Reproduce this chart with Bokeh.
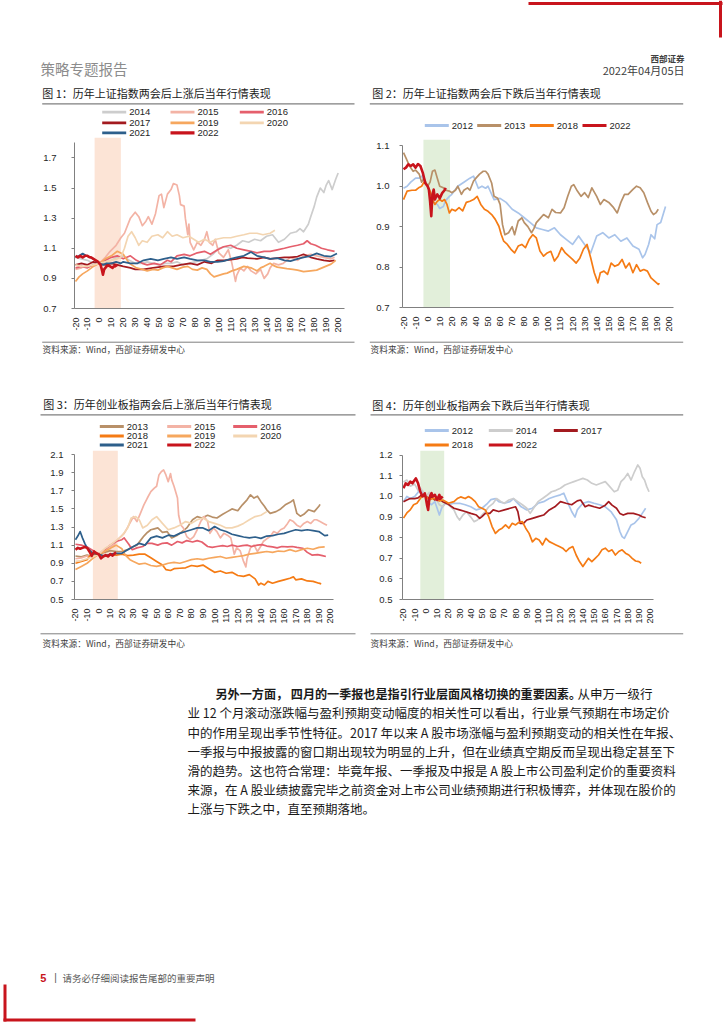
import math
from bokeh.plotting import figure
from bokeh.models import Range1d, FixedTicker
from bokeh.layouts import column, row
from bokeh.embed import file_html
from bokeh.resources import INLINE
from bokeh.core.properties import value

CJK = "Noto Sans CJK SC"
LAT = "Liberation Sans"
RED = "#c8141c"

COLORS = {
    "2012": "#a9c4ea", "2013": "#b89068", "2014": "#cdcdcd", "2015": "#f3b3a5",
    "2016": "#e55f6c", "2017": "#a31a1f", "2018": "#f57b14", "2019": "#f6a75e",
    "2020": "#f3d5b1", "2021": "#2d5f8b", "2022": "#c8141c",
}

# ---------------- data (day offset vs. two-sessions end, normalised index) ----------------
XTICKS = list(range(-20, 201, 10))

# Figure 1: Shanghai Composite, years that rose after the two sessions
f1_2014 = [(-20,1.04),(-15,1.03),(-10,1.02),(-5,1.0),(0,1.0),(5,1.01),(10,1.02),(15,1.04),(20,1.05),(25,1.02),(30,1.0),(35,1.0),(40,1.01),(45,1.0),(50,0.99),(55,1.0),(60,1.0),(65,1.01),(70,0.99),(75,1.0),(80,1.01),(85,1.02),(90,1.03),(95,1.06),(100,1.1),(105,1.11),(110,1.1),(115,1.12),(120,1.15),(125,1.14),(130,1.16),(135,1.15),(140,1.18),(145,1.19),(150,1.14),(155,1.16),(160,1.2),(165,1.21),(168,1.23),(171,1.21),(175,1.26),(177,1.31),(180,1.38),(182,1.44),(185,1.5),(188,1.47),(190,1.52),(192,1.55),(195,1.49),(198,1.56),(200,1.6)]
f1_2015 = [(-20,0.96),(-15,0.97),(-10,0.99),(-5,0.98),(0,1.0),(5,1.04),(9,1.08),(14,1.12),(18,1.17),(21,1.2),(26,1.3),(30,1.34),(33,1.31),(36,1.25),(39,1.28),(41,1.31),(44,1.26),(47,1.33),(50,1.45),(52,1.46),(54,1.37),(57,1.46),(60,1.49),(62,1.53),(65,1.52),(67,1.45),(68,1.39),(71,1.38),(72,1.3),(74,1.19),(75,1.26),(76,1.14),(79,1.09),(82,1.14),(85,1.12),(88,1.16),(90,1.21),(92,1.14),(95,1.12),(97,1.16),(100,1.07),(104,1.04),(108,1.09),(111,1.0),(114,0.88),(115,0.92),(118,0.97),(121,0.95),(124,0.98),(127,0.95),(131,0.93),(135,0.96),(138,0.9),(141,0.93),(143,0.97),(146,1.0),(150,0.99),(154,1.0),(160,1.04),(166,1.02),(171,1.05),(177,1.06),(182,1.05),(188,1.04),(194,1.03),(197,1.04)]
f1_2016 = [(-20,0.97),(-15,0.98),(-10,0.97),(-5,0.99),(0,1.0),(5,1.02),(10,1.04),(15,1.05),(20,1.03),(26,1.05),(31,1.02),(36,1.0),(40,0.99),(46,1.0),(51,0.99),(57,1.02),(60,1.01),(65,1.05),(71,1.06),(76,1.05),(82,1.07),(88,1.08),(93,1.06),(99,1.09),(104,1.11),(110,1.12),(115,1.1),(121,1.09),(127,1.08),(132,1.07),(138,1.08),(143,1.08),(149,1.09),(155,1.1),(160,1.11),(166,1.12),(171,1.13),(174,1.15),(177,1.13),(181,1.12),(186,1.1),(191,1.09),(197,1.08)]
f1_2017 = [(-20,0.99),(-15,1.0),(-10,0.99),(-5,1.01),(0,1.0),(5,0.99),(10,1.0),(15,0.99),(20,0.98),(26,0.97),(30,0.96),(37,0.96),(45,0.97),(54,0.98),(62,0.98),(68,0.99),(76,1.0),(82,0.99),(88,1.01),(94,1.0),(99,1.02),(105,1.02),(110,1.025),(115,1.03),(120,1.04),(124,1.035),(132,1.03),(138,1.04),(143,1.03),(149,1.035),(155,1.04),(160,1.04),(166,1.045),(171,1.06),(177,1.04),(182,1.03),(188,1.02),(193,1.015),(197,1.02)]
f1_2019 = [(-20,0.88),(-17,0.91),(-14,0.93),(-10,0.95),(-5,0.98),(0,1.0),(5,1.03),(10,1.05),(15,1.08),(20,1.06),(25,1.0),(31,0.97),(36,0.96),(40,0.95),(45,0.96),(49,0.955),(53,0.97),(57,0.98),(61,0.97),(65,0.96),(70,0.975),(74,0.98),(78,0.96),(82,0.955),(86,0.97),(90,0.96),(93,0.93),(96,0.91),(100,0.92),(104,0.93),(107,0.935),(111,0.95),(115,0.96),(118,0.97),(121,0.98),(124,0.975),(127,0.97),(132,0.95),(135,0.97),(138,0.98),(143,1.0),(146,0.985),(149,0.975),(153,0.97),(157,0.965),(162,0.96),(166,0.955),(171,0.945),(177,0.95),(182,0.955),(188,0.975),(194,0.995),(198,1.02)]
f1_2020 = [(-20,0.99),(-15,0.98),(-10,0.98),(-5,0.99),(0,1.0),(5,1.01),(10,1.02),(15,1.03),(18,1.04),(21,1.1),(24,1.18),(27,1.21),(30,1.17),(33,1.12),(36,1.15),(40,1.14),(44,1.18),(49,1.19),(53,1.17),(57,1.21),(61,1.18),(65,1.19),(70,1.17),(75,1.18),(79,1.16),(83,1.14),(88,1.16),(93,1.14),(98,1.16),(104,1.17),(110,1.17),(115,1.18),(121,1.19),(126,1.2),(132,1.2),(137,1.19),(143,1.2),(147,1.22)]
f1_2021 = [(-20,1.04),(-17,1.05),(-14,1.065),(-11,1.05),(-8,1.04),(-5,1.03),(-2,1.01),(0,1.0),(3,0.99),(6,1.0),(10,1.0),(14,1.01),(18,1.0),(20,1.01),(26,1.0),(32,1.0),(37,1.02),(43,1.03),(49,1.02),(54,1.03),(60,1.04),(65,1.03),(71,1.04),(76,1.03),(82,1.02),(88,1.02),(93,1.01),(99,1.01),(104,1.015),(110,1.03),(115,1.04),(121,1.05),(127,1.075),(132,1.05),(138,1.04),(143,1.03),(149,1.035),(155,1.02),(160,1.015),(166,1.03),(171,1.04),(177,1.05),(182,1.066),(188,1.05),(194,1.045),(199,1.066)]
f1_2022 = [(-20,1.05),(-18,1.04),(-16,1.05),(-14,1.04),(-12,1.05),(-10,1.05),(-8,1.04),(-7,1.04),(-5,1.03),(-3,1.02),(-1,1.01),(0,1.0),(1,0.99),(2,0.96),(3,0.925),(4,0.96),(5,0.97),(6,0.98),(8,0.985),(10,0.975),(11,0.97),(12,0.98),(13,0.98),(15,0.99)]

# Figure 2: Shanghai Composite, years that fell after the two sessions
f2_2012 = [(-20,0.995),(-17,1.0),(-14,1.01),(-10,1.02),(-7,1.02),(-5,1.025),(-2,1.01),(0,1.0),(3,0.975),(5,0.96),(8,0.955),(10,0.945),(13,0.95),(15,0.965),(18,0.975),(20,0.98),(25,1.0),(30,1.01),(35,1.02),(38,1.025),(42,0.995),(45,1.0),(48,0.995),(50,1.0),(55,0.967),(60,0.97),(65,0.96),(70,0.943),(75,0.934),(80,0.922),(85,0.91),(90,0.897),(95,0.893),(100,0.889),(105,0.897),(110,0.88),(115,0.868),(120,0.856),(125,0.877),(130,0.856),(132,0.848),(135,0.835),(140,0.877),(145,0.885),(150,0.872),(155,0.88),(160,0.864),(165,0.872),(170,0.852),(175,0.844),(178,0.823),(180,0.831),(183,0.856),(185,0.88),(188,0.87),(190,0.905),(193,0.91),(195,0.93),(197,0.95)]
f2_2013 = [(-20,1.083),(-18,1.07),(-15,1.05),(-12,1.037),(-10,1.04),(-7,1.03),(-5,1.01),(-3,1.02),(0,1.0),(2,1.01),(4,1.037),(6,1.04),(8,1.02),(10,1.0),(13,0.996),(15,0.99),(18,0.988),(20,0.984),(23,0.99),(25,1.0),(28,0.98),(30,0.99),(33,0.996),(35,0.99),(38,1.013),(40,1.02),(43,1.03),(46,1.037),(48,1.037),(50,1.03),(53,1.008),(55,0.975),(58,0.97),(60,0.955),(62,0.905),(64,0.88),(67,0.885),(70,0.9),(72,0.88),(75,0.914),(78,0.922),(80,0.91),(83,0.9),(86,0.885),(88,0.895),(90,0.91),(93,0.92),(96,0.93),(100,0.922),(103,0.943),(106,0.935),(110,0.934),(113,0.947),(116,0.975),(119,1.0),(121,1.004),(124,0.988),(127,0.975),(130,0.984),(133,0.972),(136,0.996),(140,0.975),(143,0.955),(146,0.967),(150,0.96),(154,0.947),(157,0.934),(160,0.96),(163,0.98),(166,0.98),(170,0.992),(173,1.0),(176,0.996),(179,0.984),(182,0.96),(185,0.938),(187,0.93),(189,0.934),(191,0.943)]
f2_2018 = [(-20,0.967),(-17,0.988),(-13,0.99),(-10,0.99),(-7,0.997),(-5,1.0),(-3,1.01),(0,1.0),(2,0.988),(4,0.967),(6,0.955),(8,0.963),(10,0.967),(12,0.963),(14,0.967),(16,0.955),(18,0.934),(20,0.943),(23,0.939),(26,0.947),(29,0.939),(32,0.96),(35,0.963),(38,0.967),(41,0.975),(44,0.955),(47,0.943),(50,0.938),(53,0.93),(56,0.918),(59,0.901),(61,0.88),(63,0.864),(66,0.856),(69,0.844),(72,0.835),(75,0.852),(78,0.856),(81,0.848),(84,0.868),(87,0.88),(90,0.872),(93,0.84),(96,0.827),(99,0.835),(102,0.839),(105,0.815),(108,0.827),(111,0.848),(114,0.835),(117,0.827),(120,0.819),(123,0.81),(126,0.822),(129,0.844),(132,0.856),(135,0.823),(138,0.786),(141,0.761),(143,0.786),(146,0.79),(149,0.782),(152,0.81),(155,0.802),(158,0.806),(161,0.819),(164,0.798),(167,0.81),(170,0.786),(173,0.806),(176,0.79),(179,0.794),(182,0.79),(185,0.773),(188,0.765),(191,0.757),(192,0.76)]
f2_2022 = [(-20,1.042),(-18,1.046),(-16,1.054),(-14,1.05),(-12,1.054),(-10,1.046),(-8,1.055),(-6,1.05),(-4,1.033),(-2,1.008),(0,1.0),(1,0.992),(2,0.963),(3,0.926),(4,0.98),(5,0.992),(6,0.967),(8,0.98),(10,0.97),(12,0.983),(14,0.99),(15,0.996)]

# Figure 3: ChiNext, years that rose after the two sessions
f3_2013 = [(-20,0.98),(-15,0.97),(-10,0.99),(-5,0.97),(0,1.0),(5,1.02),(10,1.04),(15,1.03),(20,1.03),(25,1.05),(29,1.08),(33,1.1),(36,1.15),(39,1.2),(42,1.24),(45,1.27),(48,1.28),(51,1.29),(55,1.24),(59,1.25),(63,1.18),(68,1.21),(72,1.25),(76,1.29),(81,1.38),(85,1.415),(89,1.4),(94,1.43),(98,1.41),(102,1.4),(107,1.44),(111,1.47),(115,1.5),(120,1.48),(124,1.545),(128,1.6),(131,1.655),(134,1.62),(137,1.64),(140,1.58),(143,1.53),(145,1.49),(148,1.45),(153,1.47),(157,1.5),(161,1.545),(166,1.58),(168,1.6),(171,1.45),(174,1.42),(177,1.44),(181,1.49),(186,1.47),(190,1.53),(191,1.55)]
f3_2015 = [(-20,0.95),(-15,0.96),(-10,0.98),(-5,0.97),(0,1.0),(4,1.03),(9,1.08),(13,1.1),(17,1.17),(22,1.23),(26,1.32),(30,1.415),(33,1.36),(36,1.45),(39,1.545),(42,1.62),(45,1.69),(48,1.73),(50,1.75),(52,1.875),(54,1.91),(56,1.93),(58,1.875),(60,1.8),(62,1.89),(63,1.82),(65,1.75),(68,1.62),(69,1.43),(71,1.32),(73,1.29),(76,1.195),(79,1.16),(82,1.195),(85,1.27),(88,1.36),(91,1.415),(94,1.36),(96,1.23),(99,1.29),(102,1.25),(105,1.18),(108,1.23),(111,1.21),(114,1.18),(117,1.0),(119,1.07),(122,1.04),(125,0.92),(127,0.86),(128,0.95),(131,1.07),(134,1.1),(137,1.03),(140,1.09),(142,1.14),(145,1.17),(148,1.195),(151,1.25),(154,1.23),(157,1.27),(160,1.29),(163,1.34),(165,1.38),(168,1.36),(171,1.32),(174,1.3),(177,1.34),(180,1.36),(183,1.34),(186,1.38),(188,1.38),(191,1.36),(194,1.34),(197,1.32)]
f3_2016 = [(-20,1.11),(-15,1.1),(-10,1.08),(-5,1.04),(0,1.0),(5,1.05),(10,1.1),(15,1.14),(20,1.16),(22,1.18),(26,1.11),(29,1.05),(33,1.07),(38,1.085),(42,1.12),(46,1.12),(51,1.1),(55,1.12),(59,1.125),(63,1.1),(68,1.14),(72,1.125),(76,1.15),(81,1.135),(85,1.15),(89,1.135),(94,1.085),(98,1.075),(102,1.085),(107,1.095),(111,1.085),(115,1.1),(120,1.085),(124,1.095),(128,1.1),(132,1.085),(137,1.1),(141,1.105),(145,1.09),(150,1.08),(154,1.07),(158,1.085),(163,1.08),(167,1.085),(171,1.075),(176,1.066),(180,1.02),(184,0.99),(189,0.995),(193,0.985),(196,0.975)]
f3_2018 = [(-20,0.9),(-15,0.92),(-10,0.94),(-7,0.99),(-5,1.0),(0,1.0),(5,0.975),(10,1.0),(15,0.99),(20,1.0),(25,0.985),(30,0.99),(35,1.0),(40,1.0),(45,0.96),(50,0.92),(55,0.88),(58,0.83),(62,0.82),(65,0.84),(70,0.845),(75,0.85),(80,0.875),(85,0.865),(90,0.88),(95,0.84),(100,0.8),(105,0.815),(110,0.79),(115,0.8),(120,0.765),(125,0.755),(130,0.775),(135,0.728),(138,0.66),(140,0.68),(143,0.66),(146,0.7),(150,0.68),(155,0.7),(160,0.717),(165,0.735),(168,0.75),(170,0.717),(175,0.728),(180,0.705),(185,0.7),(190,0.68),(192,0.673)]
f3_2019 = [(-20,0.83),(-15,0.865),(-10,0.9),(-5,0.955),(0,1.0),(5,1.03),(10,1.066),(15,1.1),(20,1.06),(23,0.99),(27,0.94),(30,0.92),(35,0.89),(40,0.9),(45,0.875),(50,0.865),(55,0.88),(60,0.9),(65,0.91),(70,0.9),(75,0.92),(80,0.94),(85,0.95),(90,0.94),(95,0.955),(100,0.965),(105,0.975),(110,0.955),(115,0.965),(120,0.975),(125,0.985),(130,1.0),(135,1.01),(140,1.02),(145,1.03),(150,1.02),(155,1.035),(160,1.03),(165,1.05),(170,1.03),(175,1.05),(180,1.066),(185,1.055),(190,1.075),(195,1.08)]
f3_2020 = [(-20,0.92),(-15,0.93),(-10,0.95),(-5,0.97),(0,1.0),(5,1.06),(10,1.1),(15,1.15),(20,1.2),(25,1.29),(28,1.4),(32,1.415),(35,1.38),(38,1.29),(42,1.32),(46,1.38),(50,1.415),(55,1.34),(60,1.27),(65,1.29),(70,1.32),(75,1.36),(80,1.34),(85,1.38),(90,1.4),(95,1.36),(100,1.34),(105,1.32),(110,1.29),(115,1.29),(120,1.31),(125,1.34),(130,1.38),(135,1.415),(140,1.43),(145,1.47)]
f3_2021 = [(-20,1.16),(-18,1.2),(-16,1.25),(-14,1.18),(-12,1.12),(-10,1.07),(-5,1.01),(0,1.0),(5,0.98),(10,1.0),(15,1.01),(20,1.01),(25,1.05),(30,1.085),(35,1.12),(40,1.1),(45,1.18),(50,1.2),(55,1.18),(60,1.21),(65,1.2),(70,1.23),(75,1.25),(80,1.27),(85,1.29),(90,1.29),(95,1.26),(100,1.305),(105,1.27),(110,1.25),(115,1.22),(120,1.205),(125,1.19),(130,1.18),(135,1.19),(140,1.175),(145,1.2),(150,1.205),(155,1.22),(160,1.23),(165,1.25),(170,1.27),(175,1.26),(180,1.27),(185,1.26),(190,1.25),(195,1.205),(198,1.21)]
f3_2022 = [(-20,1.05),(-18,1.07),(-16,1.06),(-14,1.07),(-12,1.08),(-10,1.07),(-8,1.03),(-6,0.98),(-4,1.03),(-2,1.01),(0,1.0),(2,0.955),(4,0.975),(6,0.99),(8,0.975),(10,1.0),(12,0.985),(14,1.01),(15,1.02)]

# Figure 4: ChiNext, years that fell after the two sessions
f4_2012 = [(-20,0.975),(-17,1.0),(-14,0.99),(-10,1.0),(-7,1.02),(-5,1.04),(-3,1.015),(0,1.0),(3,0.967),(5,0.96),(8,0.975),(10,0.943),(12,0.91),(14,0.943),(16,0.96),(18,0.967),(20,0.96),(25,0.967),(30,0.967),(35,0.96),(40,0.95),(45,0.935),(50,0.943),(55,0.967),(58,0.985),(62,0.99),(65,0.975),(70,0.967),(75,0.975),(78,0.99),(82,0.967),(85,0.95),(90,0.935),(95,0.943),(100,0.967),(105,0.975),(110,0.99),(115,1.0),(120,1.008),(123,1.016),(125,0.99),(130,0.927),(133,0.9),(135,0.935),(140,0.967),(145,0.975),(150,0.967),(155,0.96),(160,0.95),(165,0.927),(170,0.887),(173,0.83),(175,0.805),(177,0.797),(180,0.83),(183,0.862),(186,0.87),(190,0.894),(193,0.918),(196,0.943)]
f4_2014 = [(-20,1.07),(-17,1.08),(-14,1.05),(-10,1.06),(-7,1.03),(-5,1.04),(-2,1.02),(0,1.0),(3,1.02),(5,0.99),(8,1.01),(10,0.98),(12,0.96),(15,0.95),(18,0.97),(20,0.96),(25,0.935),(28,0.9),(30,0.886),(33,0.91),(36,0.927),(40,0.9),(43,0.878),(46,0.886),(50,0.91),(53,0.927),(56,0.95),(60,0.967),(63,0.99),(67,0.975),(70,0.967),(74,0.983),(78,0.99),(82,0.975),(86,0.96),(90,0.943),(93,0.918),(96,0.943),(100,0.975),(104,0.99),(108,1.006),(112,1.023),(116,1.03),(120,1.04),(124,1.056),(128,1.064),(132,1.072),(136,1.08),(140,1.088),(144,1.08),(148,1.064),(152,1.056),(156,1.064),(160,1.072),(164,1.048),(168,1.023),(171,1.03),(174,1.072),(177,1.088),(180,1.112),(183,1.08),(186,1.12),(189,1.153),(191,1.137),(193,1.096),(195,1.08),(197,1.048),(199,1.023)]
f4_2017 = [(-20,0.975),(-17,0.983),(-14,0.99),(-10,0.99),(-7,0.993),(-4,1.007),(0,1.0),(3,0.99),(5,0.998),(8,0.983),(10,0.99),(13,0.983),(15,0.975),(18,0.967),(20,0.962),(25,0.943),(30,0.935),(35,0.927),(40,0.918),(45,0.91),(48,0.894),(50,0.902),(53,0.918),(57,0.918),(60,0.935),(65,0.927),(70,0.935),(75,0.943),(80,0.95),(82,0.927),(84,0.87),(87,0.87),(90,0.886),(95,0.894),(100,0.902),(105,0.91),(110,0.935),(115,0.95),(120,0.975),(125,0.967),(130,0.96),(135,0.979),(138,0.983),(142,0.95),(145,0.958),(150,0.95),(155,0.943),(160,0.958),(163,0.975),(166,0.958),(170,0.943),(173,0.918),(176,0.91),(180,0.918),(185,0.918),(190,0.91),(193,0.902),(196,0.897)]
f4_2018 = [(-20,0.895),(-17,0.92),(-14,0.935),(-11,0.96),(-8,0.967),(-5,0.99),(-3,1.006),(0,1.0),(3,0.983),(6,0.99),(9,0.99),(12,0.978),(15,0.983),(18,0.975),(20,0.967),(25,0.975),(28,0.99),(31,0.998),(35,0.99),(38,1.0),(41,0.99),(44,0.975),(47,0.95),(50,0.943),(53,0.935),(56,0.902),(59,0.854),(62,0.821),(65,0.837),(68,0.846),(71,0.862),(74,0.846),(77,0.87),(80,0.862),(83,0.875),(86,0.878),(89,0.846),(92,0.821),(95,0.78),(98,0.797),(101,0.789),(104,0.765),(107,0.797),(110,0.781),(113,0.773),(116,0.765),(119,0.757),(122,0.749),(125,0.733),(128,0.749),(131,0.757),(134,0.716),(137,0.684),(140,0.66),(142,0.676),(145,0.7),(148,0.684),(151,0.7),(154,0.716),(157,0.741),(160,0.749),(163,0.733),(166,0.741),(169,0.716),(172,0.733),(175,0.741),(178,0.725),(181,0.716),(184,0.7),(187,0.687),(190,0.684),(192,0.676)]
f4_2022 = [(-20,1.04),(-18,1.064),(-16,1.056),(-14,1.072),(-12,1.064),(-10,1.08),(-9,1.088),(-7,1.064),(-5,1.023),(-3,1.0),(-1,1.015),(0,0.99),(1,0.958),(2,0.935),(3,0.99),(4,1.006),(5,1.016),(6,1.0),(8,1.008),(10,0.983),(12,1.008),(13,0.99),(15,1.0)]

# shaded two-sessions windows (day offsets)
band1 = (-4, 18)
band2 = (-3.5, 18.5)
band3 = (-5, 16.5)
band4 = (-5, 16.3)

yticks1 = [0.7, 0.9, 1.1, 1.3, 1.5, 1.7]
yticks2 = [0.7, 0.8, 0.9, 1.0, 1.1]
yticks3 = [0.5, 0.7, 0.9, 1.1, 1.3, 1.5, 1.7, 1.9, 2.1]
yticks4 = [0.5, 0.6, 0.7, 0.8, 0.9, 1.0, 1.1, 1.2]

titles = [
    "图 1：历年上证指数两会后上涨后当年行情表现",
    "图 2：历年上证指数两会后下跌后当年行情表现",
    "图 3：历年创业板指两会后上涨后当年行情表现",
    "图 4：历年创业板指两会下跌后当年行情表现",
]
SOURCE = "资料来源：Wind，西部证券研发中心"

PARA_BOLD = "另外一方面， 四月的一季报也是指引行业层面风格切换的重要因素。"
PARA_FIRST_TAIL = "从申万一级行"
PARA_LINES = [
    "业 12 个月滚动涨跌幅与盈利预期变动幅度的相关性可以看出，行业景气预期在市场定价",
    "中的作用呈现出季节性特征。2017 年以来 A 股市场涨幅与盈利预期变动的相关性在年报、",
    "一季报与中报披露的窗口期出现较为明显的上升，但在业绩真空期反而呈现出稳定甚至下",
    "滑的趋势。这也符合常理：毕竟年报、一季报及中报是 A 股上市公司盈利定价的重要资料",
    "来源，在 A 股业绩披露完毕之前资金对上市公司业绩预期进行积极博弈，并体现在股价的",
    "上涨与下跌之中，直至预期落地。",
]


# ---------------- helpers ----------------
def deco(x0, x1, y0, y1):
    p = figure(width=x1 - x0, height=y1 - y0, x_range=Range1d(x0, x1), y_range=Range1d(y1, y0),
               min_border=0, toolbar_location=None, output_backend="svg",
               outline_line_color=None, x_axis_location=None, y_axis_location=None)
    p.frame_align = False
    p.grid.visible = False
    p.background_fill_color = "white"
    p.border_fill_color = "white"
    return p


def txt(p, x, y, s, size, color="#1a1a1a", font=CJK, align="left", style="normal"):
    p.text(x=[x], y=[y], text=[s], text_font=value(font), text_font_size=value(f"{size}px"),
           text_color=color, text_align=align, text_baseline="middle", text_font_style=style)


def hline(p, x0, x1, y, color="#808080", w=1.0):
    p.line(x=[x0, x1], y=[y, y], line_color=color, line_width=w)


def vline(p, x, y0, y1, color="#808080", w=1.0):
    p.line(x=[x, x], y=[y0, y1], line_color=color, line_width=w)


def top_panel(x0, x1, y0, y1, title, tx, ty, rule, legend):
    p = deco(x0, x1, y0, y1)
    txt(p, tx, ty, title, 11, "#1a1a1a")
    hline(p, rule[0], rule[1], rule[2], "#7f7f7f", 1.2)
    for name, lx, ly in legend:
        hline(p, lx, lx + 24, ly, COLORS[name], 3.2 if name == "2022" else 2.8)
        txt(p, lx + 27, ly, name, 9.5, "#262626", LAT)
    return p


def bottom_panel(x0, x1, y0, y1, rule, sx, sy):
    p = deco(x0, x1, y0, y1)
    hline(p, rule[0], rule[1], rule[2], "#7f7f7f", 1.0)
    txt(p, sx, sy, SOURCE, 8.7, "#404040")
    return p


def plot_panel(w, h, mbl, mbr, mbb, xr, yr, yticks, ybound_top, ystand, band, band_color, series):
    p = figure(width=w, height=h, x_range=Range1d(*xr), y_range=Range1d(*yr),
               min_border_left=mbl, min_border_right=mbr, min_border_top=0, min_border_bottom=mbb,
               toolbar_location=None, output_backend="svg", outline_line_color=None)
    p.frame_align = False
    p.grid.visible = False
    p.background_fill_color = "white"
    p.border_fill_color = "white"
    p.quad(left=[band[0]], right=[band[1]], bottom=[yr[0]], top=[yr[1]],
           fill_color=band_color, line_color=None)
    for name, pts in series:
        p.line(x=[d for d, _ in pts], y=[v for _, v in pts], line_color=COLORS[name],
               line_width=2.6 if name == "2022" else 1.7, line_join="round")
    xa = p.xaxis[0]
    xa.ticker = FixedTicker(ticks=XTICKS)
    xa.major_label_overrides = {t: str(t) for t in XTICKS}
    xa.major_label_orientation = math.pi / 2
    xa.major_label_text_font = LAT
    xa.major_label_text_font_size = "9px"
    xa.major_label_text_color = "#262626"
    xa.major_label_standoff = 3
    xa.major_tick_line_color = None
    xa.minor_tick_line_color = None
    xa.axis_line_color = "#808080"
    ya = p.yaxis[0]
    ya.ticker = FixedTicker(ticks=yticks)
    ya.major_label_overrides = {t: f"{t:.1f}" for t in yticks}
    ya.bounds = (yticks[0], ybound_top)
    ya.major_label_text_font = LAT
    ya.major_label_text_font_size = "9.5px"
    ya.major_label_text_color = "#262626"
    ya.major_label_standoff = ystand
    ya.major_tick_out = 3
    ya.major_tick_in = 0
    ya.major_tick_line_color = "#808080"
    ya.minor_tick_line_color = None
    ya.axis_line_color = "#808080"
    return p


PEACH = "#fce4d6"
GREEN = "#e2efda"

# ---------------- chart 1 ----------------
t1 = top_panel(0, 362, 84, 137, titles[0], 41.7, 92.3, (41.7, 354, 103.3),
               [("2014", 101.7, 111.7), ("2015", 170, 111.7), ("2016", 239.3, 111.7),
                ("2017", 101.7, 122.3), ("2019", 170, 122.3), ("2020", 239.3, 122.3),
                ("2021", 101.7, 132.3), ("2022", 170, 132.3)])
p1 = plot_panel(362, 201, 74, 18, 30, (-20.84, 205.3), (0.7, 1.836), yticks1, 1.8, 15, band1, PEACH,
                [("2014", f1_2014), ("2015", f1_2015), ("2016", f1_2016), ("2017", f1_2017),
                 ("2019", f1_2019), ("2020", f1_2020), ("2021", f1_2021), ("2022", f1_2022)])
b1 = bottom_panel(0, 362, 338, 392, (41.7, 354, 341.7), 42, 349.3)

# ---------------- chart 2 ----------------
t2 = top_panel(362, 724, 84, 139, titles[1], 371.7, 92.3, (369.3, 682.7, 103.3),
               [("2012", 424.3, 125), ("2013", 476.7, 125), ("2018", 529.3, 125), ("2022", 582, 125)])
p2 = plot_panel(362, 199, 40, 51, 31, (-20.83, 203.6), (0.7, 1.1156), yticks2, 1.1, 10, band2, GREEN,
                [("2012", f2_2012), ("2013", f2_2013), ("2018", f2_2018), ("2022", f2_2022)])
b2 = bottom_panel(362, 724, 338, 392, (369.3, 682.7, 341.7), 370, 349.3)

# ---------------- chart 3 ----------------
t3 = top_panel(0, 362, 392, 450, titles[2], 42.7, 403.3, (40, 355, 414.3),
               [("2013", 99.3, 426), ("2015", 166.7, 426), ("2016", 232.7, 426),
                ("2018", 99.3, 435.5), ("2019", 166.7, 435.5), ("2020", 232.7, 435.5),
                ("2021", 99.3, 444.5), ("2022", 166.7, 444.5)])
p3 = plot_panel(362, 180, 74, 29, 31, (-20.86, 202.6), (0.5, 2.1446), yticks3, 2.1, 8, band3, PEACH,
                [("2013", f3_2013), ("2015", f3_2015), ("2016", f3_2016), ("2018", f3_2018),
                 ("2019", f3_2019), ("2020", f3_2020), ("2021", f3_2021), ("2022", f3_2022)])
b3 = bottom_panel(0, 362, 630, 656, (40, 355, 633.3), 42, 642.7)

# ---------------- chart 4 ----------------
t4 = top_panel(362, 724, 392, 450, titles[3], 371.7, 404, (370, 682.7, 414.3),
               [("2012", 424.3, 430), ("2014", 488.3, 430), ("2017", 553.3, 430),
                ("2018", 424.3, 444.5), ("2022", 488.3, 444.5)])
p4 = plot_panel(362, 180, 40, 71, 31, (-20.89, 203.0), (0.5, 1.2233), yticks4, 1.2, 7, band4, GREEN,
                [("2012", f4_2012), ("2014", f4_2014), ("2017", f4_2017), ("2018", f4_2018),
                 ("2022", f4_2022)])
b4 = bottom_panel(362, 724, 630, 656, (370, 682.7, 633.3), 370, 642.7)

# ---------------- header ----------------
head = deco(0, 724, 0, 84)
hline(head, 528, 722, 3, RED, 3)
vline(head, 720, 0, 37, RED, 3)
txt(head, 40, 68, "策略专题报告", 14.5, "#8c8c8c")
txt(head, 684, 57, "西部证券", 8.5, "#404040", align="right", style="bold")
txt(head, 684, 69.5, "2022年04月05日", 11, "#404040", align="right")

# ---------------- body text + footer ----------------
foot = deco(0, 724, 656, 1024)
txt(foot, 215, 693, PARA_BOLD, 12.1, "#1a1a1a", style="bold")
txt(foot, 577, 693, PARA_FIRST_TAIL, 12.5, "#1a1a1a")
for i, line in enumerate(PARA_LINES):
    txt(foot, 187, 712.3 + 19.2 * i, line, 12.5, "#1a1a1a")
txt(foot, 42.7, 977, "5", 11, RED, LAT, align="center", style="bold")
txt(foot, 55, 977, "|", 10, "#595959", LAT, align="center")
txt(foot, 62, 977, "请务必仔细阅读报告尾部的重要声明", 9.5, "#595959")
vline(foot, 4.5, 984, 1021, RED, 3)
hline(foot, 3, 195, 1019.5, RED, 3)

page = column(
    head,
    row(column(t1, p1, b1), column(t2, p2, b2)),
    row(column(t3, p3, b3), column(t4, p4, b4)),
    foot,
)

open("out.html", "w").write(file_html(page, INLINE, title="策略专题报告"))
